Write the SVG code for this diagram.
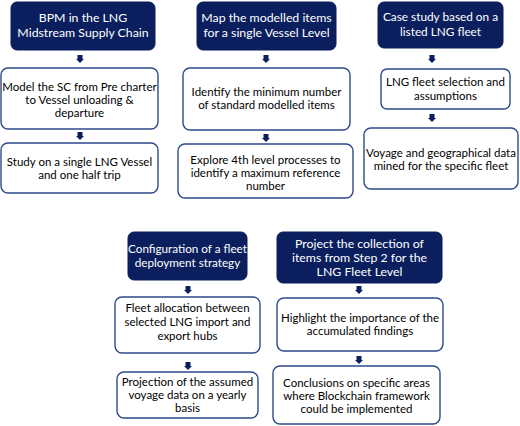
<svg xmlns="http://www.w3.org/2000/svg" width="520" height="426" viewBox="0 0 520 426">
<style>
.h{fill:#0b1f5e;stroke:#0b1f5e;stroke-width:1}
.b{fill:#ffffff;stroke:#2e4a8b;stroke-width:1.4}
.ht{font-family:Lato,"Open Sans",sans-serif;font-size:12.3px;fill:#ffffff;text-anchor:middle}
.bt{font-family:Lato,"Open Sans",sans-serif;font-size:11.5px;fill:#000000;text-anchor:middle}
.a{fill:#0b1f5e}
</style>
<defs>
<path id="arr" d="M-2.5,0 L2.5,0 L2.5,4 L4,4 L0,8 L-4,4 L-2.5,4 Z"/>
</defs>
<rect width="520" height="426" fill="#ffffff"/>
<g id="connectors" class="a">
<use href="#arr" x="80" y="55"/>
<use href="#arr" x="80" y="132"/>
<use href="#arr" x="266" y="55"/>
<use href="#arr" x="266" y="134"/>
<use href="#arr" x="432" y="55"/>
<use href="#arr" x="432" y="114"/>
<use href="#arr" x="188" y="286"/>
<use href="#arr" x="188" y="362"/>
<use href="#arr" x="359" y="286"/>
<use href="#arr" x="359" y="356"/>
</g>
<g id="n1">
<rect class="h" x="11" y="2" width="144" height="48" rx="6"/>
<text class="ht"><tspan x="83" y="22">BPM in the LNG</tspan><tspan x="83" y="37">Midstream Supply Chain</tspan></text>
</g>
<g id="n2">
<rect class="b" x="1" y="68" width="157" height="61" rx="7"/>
<text class="bt"><tspan x="79.5" y="91">Model the SC from Pre charter</tspan><tspan x="79.5" y="104">to Vessel unloading &amp;</tspan><tspan x="79.5" y="117">departure</tspan></text>
</g>
<g id="n3">
<rect class="b" x="1" y="143" width="157" height="50" rx="7"/>
<text class="bt"><tspan x="79.5" y="166">Study on a single LNG Vessel</tspan><tspan x="79.5" y="179">and one half trip</tspan></text>
</g>
<g id="n4">
<rect class="h" x="197" y="2" width="139" height="48" rx="6"/>
<text class="ht"><tspan x="266.5" y="22">Map the modelled items</tspan><tspan x="266.5" y="37">for a single Vessel Level</tspan></text>
</g>
<g id="n5">
<rect class="b" x="183" y="68" width="167" height="62" rx="7"/>
<text class="bt"><tspan x="266.5" y="96">Identify the minimum number</tspan><tspan x="266.5" y="109">of standard modelled items</tspan></text>
</g>
<g id="n6">
<rect class="b" x="178" y="144" width="175" height="54" rx="7"/>
<text class="bt"><tspan x="265.5" y="164">Explore 4th level processes to</tspan><tspan x="265.5" y="177">identify a maximum reference</tspan><tspan x="265.5" y="190">number</tspan></text>
</g>
<g id="n7">
<rect class="h" x="378" y="2" width="125" height="46" rx="6"/>
<text class="ht" style="font-size:11.8px"><tspan x="440.5" y="21">Case study based on a</tspan><tspan x="440.5" y="36">listed LNG fleet</tspan></text>
</g>
<g id="n8">
<rect class="b" x="381" y="69" width="129" height="40" rx="6"/>
<text class="bt"><tspan x="445.5" y="86">LNG fleet selection and</tspan><tspan x="445.5" y="100">assumptions</tspan></text>
</g>
<g id="n9">
<rect class="b" x="364" y="128" width="154" height="61" rx="7"/>
<text class="bt"><tspan x="441" y="157">Voyage and geographical data</tspan><tspan x="441" y="170">mined for the specific fleet</tspan></text>
</g>
<g id="n10">
<rect class="h" x="128" y="232" width="119" height="48" rx="6"/>
<text class="ht" style="font-size:11.7px"><tspan x="187.5" y="253">Configuration of a fleet</tspan><tspan x="187.5" y="267">deployment strategy</tspan></text>
</g>
<g id="n11">
<rect class="b" x="115" y="297" width="145" height="56" rx="7"/>
<text class="bt"><tspan x="187.5" y="312">Fleet allocation between</tspan><tspan x="187.5" y="326">selected LNG import and</tspan><tspan x="187.5" y="340">export hubs</tspan></text>
</g>
<g id="n12">
<rect class="b" x="117" y="372" width="141" height="46" rx="7"/>
<text class="bt"><tspan x="187.5" y="386">Projection of the assumed</tspan><tspan x="187.5" y="399">voyage data on a yearly</tspan><tspan x="187.5" y="412">basis</tspan></text>
</g>
<g id="n13">
<rect class="h" x="277" y="232" width="165" height="51" rx="6"/>
<text class="ht"><tspan x="359.5" y="248">Project the collection of</tspan><tspan x="359.5" y="262">items from Step 2 for the</tspan><tspan x="359.5" y="276">LNG Fleet Level</tspan></text>
</g>
<g id="n14">
<rect class="b" x="277" y="298" width="166" height="53" rx="7"/>
<text class="bt"><tspan x="360" y="322">Highlight the importance of the</tspan><tspan x="360" y="335">accumulated findings</tspan></text>
</g>
<g id="n15">
<rect class="b" x="273" y="366" width="167" height="58" rx="7"/>
<text class="bt"><tspan x="356.5" y="387">Conclusions on specific areas</tspan><tspan x="356.5" y="400">where Blockchain framework</tspan><tspan x="356.5" y="413">could be implemented</tspan></text>
</g>
</svg>
